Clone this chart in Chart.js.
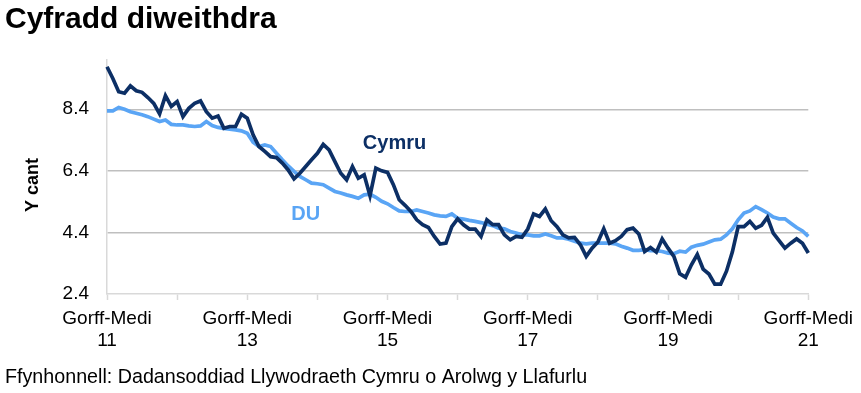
<!DOCTYPE html>
<html>
<head>
<meta charset="utf-8">
<script src="https://cdn.jsdelivr.net/npm/chart.js@4.4.1/dist/chart.umd.min.js"></script>
<style>
  body { margin: 0; background: #fff; }
  #wrap { width: 861px; height: 393px; }
</style>
</head>
<body>
<div id="wrap"><canvas id="myChart" width="861" height="393"></canvas></div>
<script>
// Welsh month abbreviations, rolling 3-month periods Gorff-Medi 2011 .. Gorff-Medi 2021
const months = ["Ion", "Chwe", "Maw", "Ebr", "Mai", "Meh", "Gorff", "Awst", "Medi", "Hyd", "Tach", "Rhag"];
const categories = [];
for (let i = 0; i <= 120; i++) {
  const yr = 2011 + Math.floor((8 + i) / 12);
  categories.push(months[(6 + i) % 12] + "-" + months[(8 + i) % 12] + " " + String(yr).slice(2));
}

const cymru = [
  9.78, 9.40, 8.97, 8.92, 9.16, 9.00, 8.95, 8.78, 8.59, 8.25, 8.84, 8.49,
  8.65, 8.16, 8.43, 8.59, 8.67, 8.32, 8.11, 8.18, 7.78, 7.84, 7.84, 8.24,
  8.11, 7.57, 7.19, 7.03, 6.86, 6.83, 6.65, 6.43, 6.14, 6.32, 6.54, 6.76,
  6.97, 7.26, 7.08, 6.70, 6.32, 6.11, 6.54, 6.16, 6.27, 5.59, 6.49, 6.40,
  6.35, 5.95, 5.46, 5.28, 5.08, 4.81, 4.65, 4.56, 4.27, 4.02, 4.05, 4.59,
  4.84, 4.65, 4.51, 4.51, 4.27, 4.81, 4.65, 4.65, 4.32, 4.16, 4.27, 4.24,
  4.51, 5.00, 4.92, 5.16, 4.78, 4.59, 4.32, 4.22, 4.24, 4.00, 3.62, 3.89,
  4.09, 4.52, 4.05, 4.13, 4.27, 4.49, 4.54, 4.35, 3.78, 3.91, 3.76, 4.19,
  3.89, 3.62, 3.06, 2.94, 3.35, 3.68, 3.21, 3.05, 2.72, 2.72, 3.14, 3.76,
  4.59, 4.59, 4.76, 4.54, 4.63, 4.89, 4.38, 4.13, 3.89, 4.05, 4.19, 4.05,
  3.73
];

const du = [
  8.35, 8.35, 8.46, 8.40, 8.32, 8.27, 8.22, 8.16, 8.08, 8.00, 8.05, 7.91,
  7.89, 7.89, 7.86, 7.84, 7.86, 8.00, 7.87, 7.81, 7.78, 7.75, 7.73, 7.70,
  7.62, 7.33, 7.19, 7.24, 7.19, 6.97, 6.76, 6.56, 6.38, 6.22, 6.11, 6.00,
  5.98, 5.95, 5.84, 5.73, 5.68, 5.62, 5.57, 5.51, 5.62, 5.64, 5.54, 5.41,
  5.33, 5.21, 5.10, 5.08, 5.08, 5.13, 5.08, 5.03, 4.97, 4.94, 4.92, 5.00,
  4.86, 4.83, 4.79, 4.76, 4.72, 4.67, 4.62, 4.54, 4.52, 4.43, 4.38, 4.32,
  4.32, 4.29, 4.29, 4.35, 4.29, 4.22, 4.22, 4.18, 4.11, 4.05, 4.03, 4.05,
  4.05, 4.05, 4.05, 4.03, 3.95, 3.89, 3.82, 3.82, 3.84, 3.81, 3.81, 3.78,
  3.73, 3.71, 3.79, 3.76, 3.92, 3.98, 4.02, 4.09, 4.16, 4.18, 4.32, 4.52,
  4.81, 5.03, 5.10, 5.24, 5.14, 5.03, 4.90, 4.84, 4.84, 4.70, 4.56, 4.45,
  4.27
];

const yTicks = [2.4, 4.4, 6.4, 8.4];
const yMin = 2.4;
const yMax = 10;

const navy = "#0c2f65";
const lightBlue = "#5aa5f5";
const font = "'Liberation Sans', Arial, sans-serif";

Chart.defaults.font.family = font;
Chart.defaults.color = "#000";

// title, axis title, source line and the two series labels
const textPlugin = {
  id: "texts",
  afterDraw(chart) {
    const c = chart.ctx;
    const x = chart.scales.x;
    const y = chart.scales.y;
    c.save();
    c.textBaseline = "middle";
    c.textAlign = "left";
    c.fillStyle = "#000";
    c.font = "bold 30px " + font;
    c.fillText("Cyfradd diweithdra", 5, 20);
    c.font = "19.7px " + font;
    c.fillText("Ffynhonnell: Dadansoddiad Llywodraeth Cymru o Arolwg y Llafurlu", 5, 378);

    c.save();
    c.translate(33, 185);
    c.rotate(-Math.PI / 2);
    c.textAlign = "center";
    c.font = "bold 18px " + font;
    c.fillText("Y cant", 0, 0);
    c.restore();

    c.textAlign = "center";
    c.font = "bold 20px " + font;
    c.fillStyle = navy;
    c.fillText("Cymru", x.getPixelForValue(49.2), y.getPixelForValue(7.28));
    c.fillStyle = lightBlue;
    c.fillText("DU", x.getPixelForValue(34.0), y.getPixelForValue(4.98));
    c.restore();
  }
};

var ctx = document.getElementById("myChart").getContext("2d");
var myChart = new Chart(ctx, {
  type: "line",
  data: {
    labels: categories,
    datasets: [
      {
        label: "Cymru",
        data: cymru,
        borderColor: navy,
        borderWidth: 3.7,
        pointRadius: 0,
        tension: 0,
        fill: false,
      },
      {
        label: "DU",
        data: du,
        borderColor: lightBlue,
        borderWidth: 3.7,
        pointRadius: 0,
        tension: 0,
        fill: false,
      },
    ],
  },
  options: {
    responsive: false,
    animation: false,
    layout: {
      padding: { top: 60, right: 52, bottom: 39, left: 0 },
    },
    plugins: {
      legend: { display: false },
      tooltip: { enabled: false },
    },
    scales: {
      x: {
        offset: false,
        afterFit: (scale) => { scale.height = 60; },
        border: { color: "#d9d9d9", width: 1.5 },
        grid: {
          drawOnChartArea: false,
          tickLength: 6,
          tickWidth: 1.5,
          tickColor: (c) => (c.index % 12 === 0 ? "#d9d9d9" : "rgba(0,0,0,0)"),
        },
        ticks: {
          autoSkip: false,
          maxRotation: 0,
          minRotation: 0,
          padding: 8,
          font: { size: 19, lineHeight: 1.15 },
          callback: function (value, index) {
            return index % 24 === 0 ? this.getLabelForValue(value).split(" ") : "";
          },
        },
      },
      y: {
        min: yMin,
        max: yMax,
        afterFit: (scale) => { scale.width = 107; },
        afterBuildTicks: (scale) => {
          scale.ticks = yTicks.map((v) => ({ value: v }));
        },
        border: { color: "#d9d9d9", width: 1.5 },
        grid: {
          drawTicks: false,
          lineWidth: 1.5,
          color: (c) => (c.tick && c.tick.value === yMin ? "rgba(0,0,0,0)" : "#bfbfbf"),
        },
        ticks: {
          padding: 18,
          font: { size: 19 },
          callback: (v) => v.toFixed(1),
        },
      },
    },
  },
  plugins: [textPlugin],
});
</script>
</body>
</html>
